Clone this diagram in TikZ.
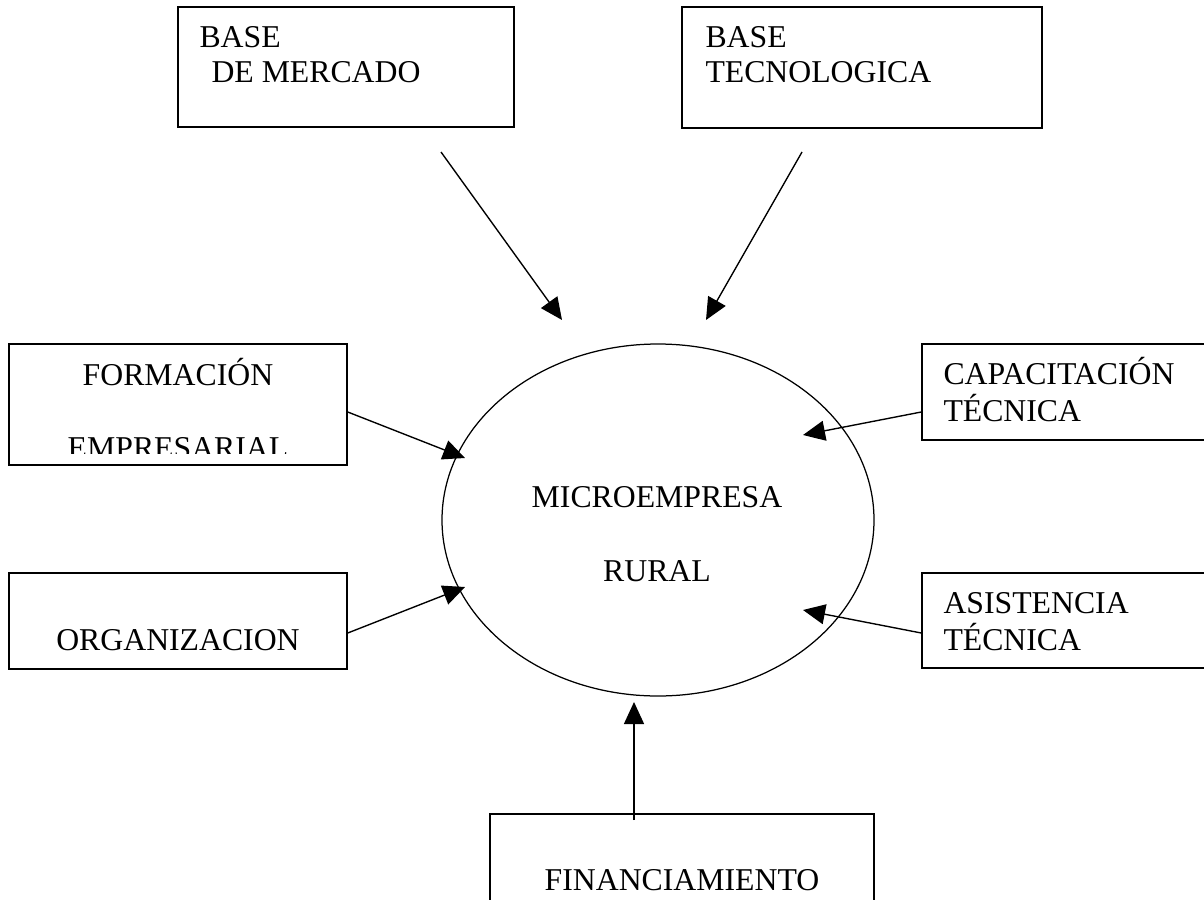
\documentclass[tikz,border=0pt]{standalone}
\usepackage{fontspec}
\setmainfont{Liberation Serif}
\usetikzlibrary{positioning,calc,fit,shapes.geometric,arrows.meta}

\tikzset{
  caja/.style={draw, line width=0.6pt, inner sep=0pt},
  texto/.style={anchor=base west, inner sep=0pt, font=\fontsize{12.7}{15}\selectfont},
  textoc/.style={texto, anchor=base},
  flecha/.style={line width=0.55pt, -{Triangle[length=8.8pt,width=8pt]}}
}

\begin{document}
\begin{tikzpicture}[x=0.4pt, y=-0.4pt]
    \useasboundingbox (0,0) rectangle (1204,899);

    % Boxes
    \node[caja, fit={(178,7) (514,127)}] (mercado) {};
    \node[caja, fit={(682,7) (1042,128)}] (tecno) {};
    \node[caja, fit={(9,344) (347,465)}] (formacion) {};
    \node[caja, fit={(9,573) (347,669)}] (organiz) {};
    \node[caja, fit={(922,344) (1240,440)}] (capacit) {};
    \node[caja, fit={(922,573) (1240,668)}] (asist) {};
    \node[caja, fit={(490,814) (874,940)}] (financ) {};

    % Center
    \node[draw, ellipse, line width=0.5pt, inner sep=0pt,
      minimum width=172.8pt, minimum height=140.8pt] (micro) at (658,520) {};

    % Labels
      \node[texto] (mercado1) at (199,48) {BASE};
      \node[texto] (mercado2) at (211,83) {DE MERCADO};
      \node[texto] (tecno1) at (705,48) {BASE};
      \node[texto] (tecno2) at (705,83) {TECNOLOGICA};

      \node[textoc] (formacion1) at (178,385) {FORMACIÓN};
      \begin{scope}
        \clip (9,344) rectangle (347,453);
        \node[textoc] (formacion2) at (178,458) {EMPRESARIAL};
      \end{scope}
      \node[textoc] (organiz1) at (178,650) {ORGANIZACION};

      \node[texto] (capacit1) at (943,384) {CAPACITACIÓN};
      \node[texto] (capacit2) at (943,421) {TÉCNICA};
      \node[texto] (asist1) at (943,613) {ASISTENCIA};
      \node[texto] (asist2) at (943,650) {TÉCNICA};

      \node[textoc] (micro1) at (657,507) {MICROEMPRESA};
      \node[textoc] (micro2) at (657,581) {RURAL};
      \node[textoc] (financ1) at (682,890) {FINANCIAMIENTO};

    % Arrows
      \coordinate (m0) at (441,152); \coordinate (m1) at (562,320);
      \coordinate (t0) at (802,152); \coordinate (t1) at (706,320);
      \coordinate (f1) at (465,458);
      \coordinate (o1) at (465,587);
      \coordinate (c1) at (803,435);
      \coordinate (a1) at (803,610);
      \coordinate (n0) at (634,820); \coordinate (n1) at (634,702);

      \draw[flecha] (m0) -- (m1);
      \draw[flecha] (t0) -- (t1);
      \draw[flecha] ([yshift=-3pt]formacion.east) -- (f1);
      \draw[flecha] ([yshift=-4.8pt]organiz.east) -- (o1);
      \draw[flecha] ([yshift=-8pt]capacit.west) -- (c1);
      \draw[flecha] ([yshift=-5pt]asist.west) -- (a1);
      \draw[flecha] (n0) -- (n1);
\end{tikzpicture}
\end{document}
